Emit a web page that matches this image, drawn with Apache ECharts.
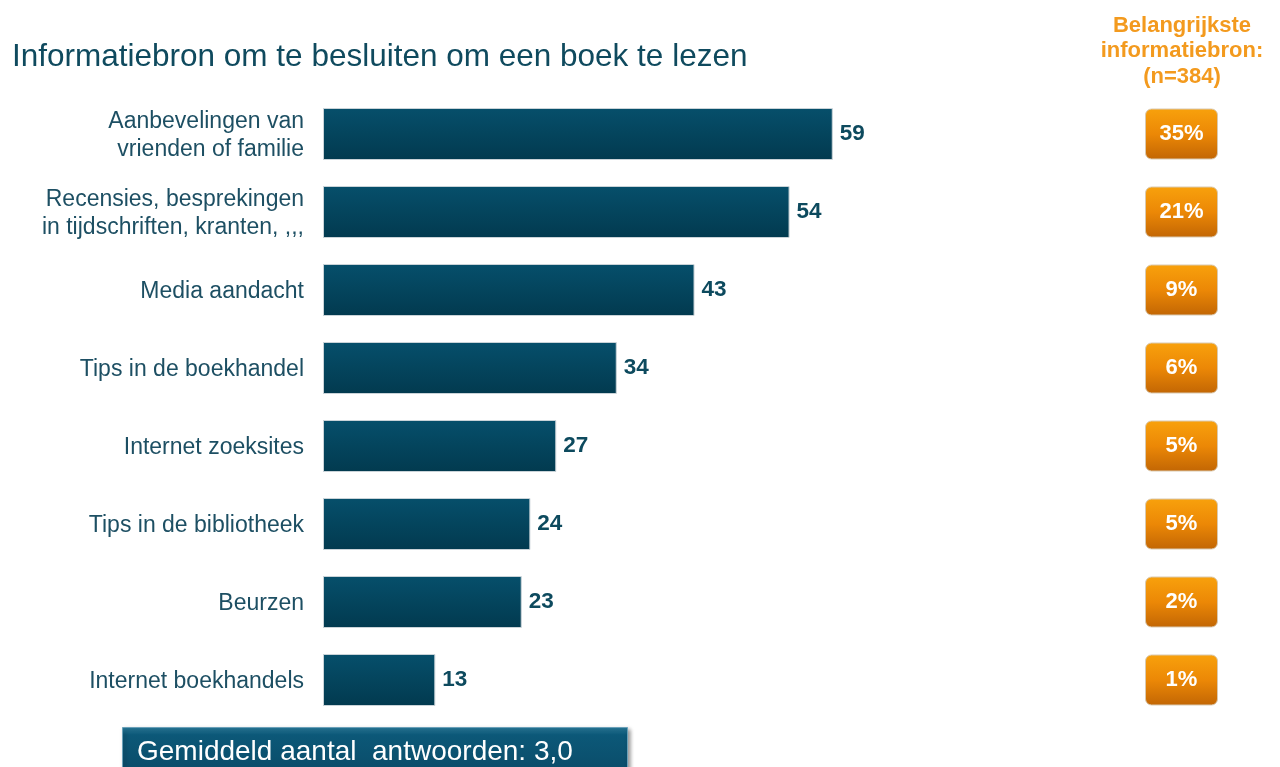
<!DOCTYPE html>
<html><head><meta charset="utf-8">
<script src="https://cdn.jsdelivr.net/npm/echarts@6/dist/echarts.min.js"></script>
<style>html,body{margin:0;padding:0;background:#fff}#c{width:1280px;height:767px}</style>
</head><body><div id="c"></div>
<script>
const categories = [
  "Aanbevelingen van\nvrienden of familie",
  "Recensies, besprekingen\nin tijdschriften, kranten, ,,,",
  "Media aandacht",
  "Tips in de boekhandel",
  "Internet zoeksites",
  "Tips in de bibliotheek",
  "Beurzen",
  "Internet boekhandels"
];
const values = [59, 54, 43, 34, 27, 24, 23, 13];
const mostImportant = ["35%", "21%", "9%", "6%", "5%", "5%", "2%", "1%"];
const titleText = "Informatiebron om te besluiten om een boek te lezen";
const sideHeader = "Belangrijkste\ninformatiebron:\n(n=384)";
const footerText = "Gemiddeld aantal  antwoorden: 3,0";

const chart = echarts.init(document.getElementById('c'));
const font = "Liberation Sans, Arial, sans-serif";
chart.setOption({
  animation: false,
  title: [
    { text: titleText, left: 7, top: 36, textStyle: { fontFamily: font, fontSize: 31.5, fontWeight: 'normal', color: '#0f4a5e' } },
    { text: sideHeader, left: 1177, top: 8, textAlign: 'center', textStyle: { fontFamily: font, fontSize: 22, fontWeight: 'bold', color: '#f39a1e', lineHeight: 25.5, align: 'center' } }
  ],
  grid: [
    { left: 323, top: 95, width: 864, height: 624 },
    { left: 1145, top: 95, width: 73, height: 624 }
  ],
  xAxis: [
    { gridIndex: 0, type: 'value', min: 0, max: 100, show: false },
    { gridIndex: 1, type: 'value', min: 0, max: 1, show: false }
  ],
  yAxis: [
    { gridIndex: 0, type: 'category', data: categories, inverse: true,
      axisLine: { show: false }, axisTick: { show: false },
      axisLabel: { fontFamily: font, fontSize: 23, color: '#1d4f63', margin: 19, lineHeight: 28, align: 'right',
        formatter: v => '{a|' + v.split('\n').join('}\n{a|') + '}',
        rich: { a: { fontFamily: font, fontSize: 23, color: '#1d4f63', lineHeight: 28, padding: [4, 0, 0, 0] } } } },
    { gridIndex: 1, type: 'category', data: categories, inverse: true, show: false }
  ],
  series: [
    { type: 'bar', xAxisIndex: 0, yAxisIndex: 0, data: values, barWidth: 52,
      itemStyle: { color: new echarts.graphic.LinearGradient(0, 0, 0, 1, [
        { offset: 0, color: '#064f6b' }, { offset: 1, color: '#023a4f' }]),
        borderColor: '#c9d3d8', borderWidth: 1 },
      label: { show: true, position: 'right', distance: 7, fontFamily: font, fontSize: 22.5, fontWeight: 'bold', color: '#0d4a5e' } },
    { type: 'bar', xAxisIndex: 1, yAxisIndex: 1, data: mostImportant.map(() => 1), barWidth: 51,
      itemStyle: { borderRadius: 6, color: new echarts.graphic.LinearGradient(0, 0, 0, 1, [
        { offset: 0, color: '#f8a10c' }, { offset: 0.5, color: '#ec8806' }, { offset: 1, color: '#c26604' }]),
        borderColor: '#d9c9b0', borderWidth: 1 },
      label: { show: true, position: 'inside', fontFamily: font, fontSize: 22, fontWeight: 'bold', color: '#ffffff',
        formatter: p => mostImportant[p.dataIndex] } }
  ],
  graphic: [
    { type: 'rect', left: 122, top: 727, shape: { width: 505, height: 52 },
      style: { fill: new echarts.graphic.LinearGradient(0, 0, 0, 1, [
        { offset: 0, color: '#2b7fa0' }, { offset: 0.15, color: '#0c5878' }, { offset: 1, color: '#0a4a66' }]),
        stroke: '#6aa0b8', lineWidth: 1, shadowBlur: 4, shadowColor: 'rgba(0,0,0,0.4)', shadowOffsetX: 2, shadowOffsetY: 2 } },
    { type: 'text', left: 137, top: 738, style: { text: footerText, fontFamily: font, fontSize: 28, fill: '#ffffff' } }
  ]
});
</script></body></html>
